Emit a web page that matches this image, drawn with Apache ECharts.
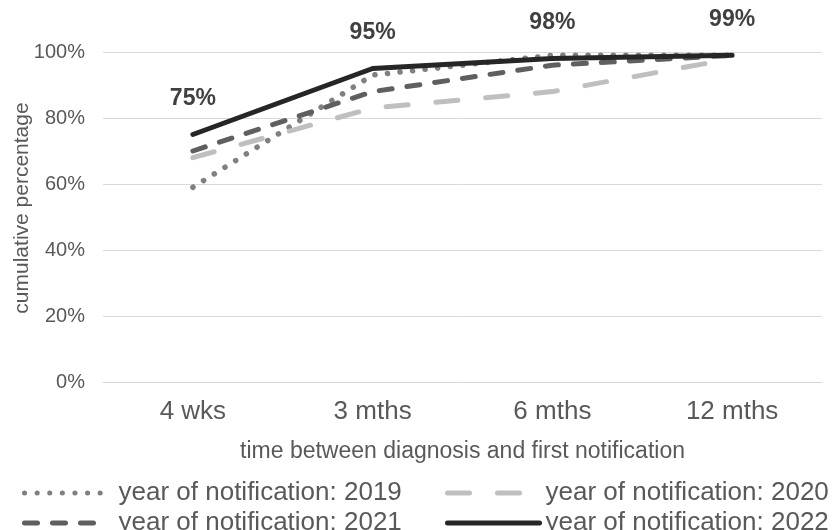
<!DOCTYPE html>
<html>
<head>
<meta charset="utf-8">
<script src="https://cdn.jsdelivr.net/npm/echarts@6/dist/echarts.min.js"></script>
<style>html,body{margin:0;padding:0;background:#fff;}#c{width:838px;height:530px;}</style>
</head>
<body>
<div id="c"></div>
<script>
const categories = ['4 wks', '3 mths', '6 mths', '12 mths'];
const yTickLabels = ['0%', '20%', '40%', '60%', '80%', '100%'];
const v2019 = [59, 93, 99, 99];
const v2020 = [68, 83, 88, 98];
const v2021 = [70, 88, 96, 99];
const v2022 = [75, 95, 98, 99];
const seriesNames = ['year of notification: 2019', 'year of notification: 2020', 'year of notification: 2021', 'year of notification: 2022'];

const FONT = 'Liberation Sans, Arial, sans-serif';
const chart = echarts.init(document.getElementById('c'), null, {renderer: 'canvas'});

function mk(name, data, color, type, width, extra) {
  return Object.assign({
    name: name, type: 'line', data: data, symbol: 'none', showSymbol: false,
    lineStyle: {color: color, width: width, type: type, cap: 'round', join: 'round'},
    itemStyle: {color: color},
    silent: true, animation: false
  }, extra || {});
}

const legendCommon = {
  orient: 'vertical', top: 480, height: 80, padding: 0, itemHeight: 14, itemGap: 4,
  selectedMode: false,
  itemStyle: {color: 'rgba(0,0,0,0)', borderWidth: 0, opacity: 0},
  lineStyle: {width: 5, cap: 'round'}
};

chart.setOption({
  animation: false,
  grid: {left: 103, right: 16, top: 52, bottom: 148, containLabel: false, outerBoundsMode: 'none'},
  xAxis: {
    type: 'category', data: categories, boundaryGap: true,
    axisLine: {show: true, lineStyle: {color: '#d9d9d9', width: 1}},
    axisTick: {show: false},
    axisLabel: {color: '#595959', fontSize: 26, fontFamily: FONT, margin: 17},
    name: 'time between diagnosis and first notification',
    nameLocation: 'middle', nameGap: 58, nameMoveOverlap: false,
    nameTextStyle: {color: '#595959', fontSize: 23, fontFamily: FONT}
  },
  yAxis: {
    type: 'value', min: 0, max: 100, interval: 20,
    axisLine: {show: false}, axisTick: {show: false},
    splitLine: {lineStyle: {color: '#d9d9d9', width: 1}},
    axisLabel: {color: '#595959', fontSize: 20, fontFamily: FONT, margin: 18,
      formatter: function (v) { return yTickLabels[Math.round(v / 20)]; }},
    name: 'cumulative percentage', nameLocation: 'middle', nameGap: 70, nameRotate: 90,
    nameMoveOverlap: false,
    nameTextStyle: {color: '#595959', fontSize: 21, fontFamily: FONT, padding: [0, 0, 0, 18]}
  },
  legend: [
    Object.assign({}, legendCommon, {
      data: [seriesNames[0], seriesNames[2]], left: 22, itemWidth: 78,
      textStyle: {color: '#595959', fontSize: 26, fontFamily: FONT, lineHeight: 24, padding: [0, 0, 0, 11]}
    }),
    Object.assign({}, legendCommon, {
      data: [seriesNames[1], seriesNames[3]], left: 445, itemWidth: 92,
      textStyle: {color: '#595959', fontSize: 26, fontFamily: FONT, lineHeight: 24, padding: [0, 0, 0, 1]}
    })
  ],
  series: [
    mk(seriesNames[0], v2019, '#808080', [0.1, 12.5], 5.5),
    mk(seriesNames[1], v2020, '#bfbfbf', [22, 28], 5),
    mk(seriesNames[2], v2021, '#5f5f5f', [13, 15], 5),
    mk(seriesNames[3], v2022, '#262626', 'solid', 5, {
      symbol: 'circle', symbolSize: 0.1, showSymbol: true,
      label: {show: true, position: 'top', distance: 24, color: '#404040', fontWeight: 'bold',
        fontSize: 23, fontFamily: FONT, formatter: function (p) { return p.value + '%'; }}
    })
  ]
});
</script>
</body>
</html>
